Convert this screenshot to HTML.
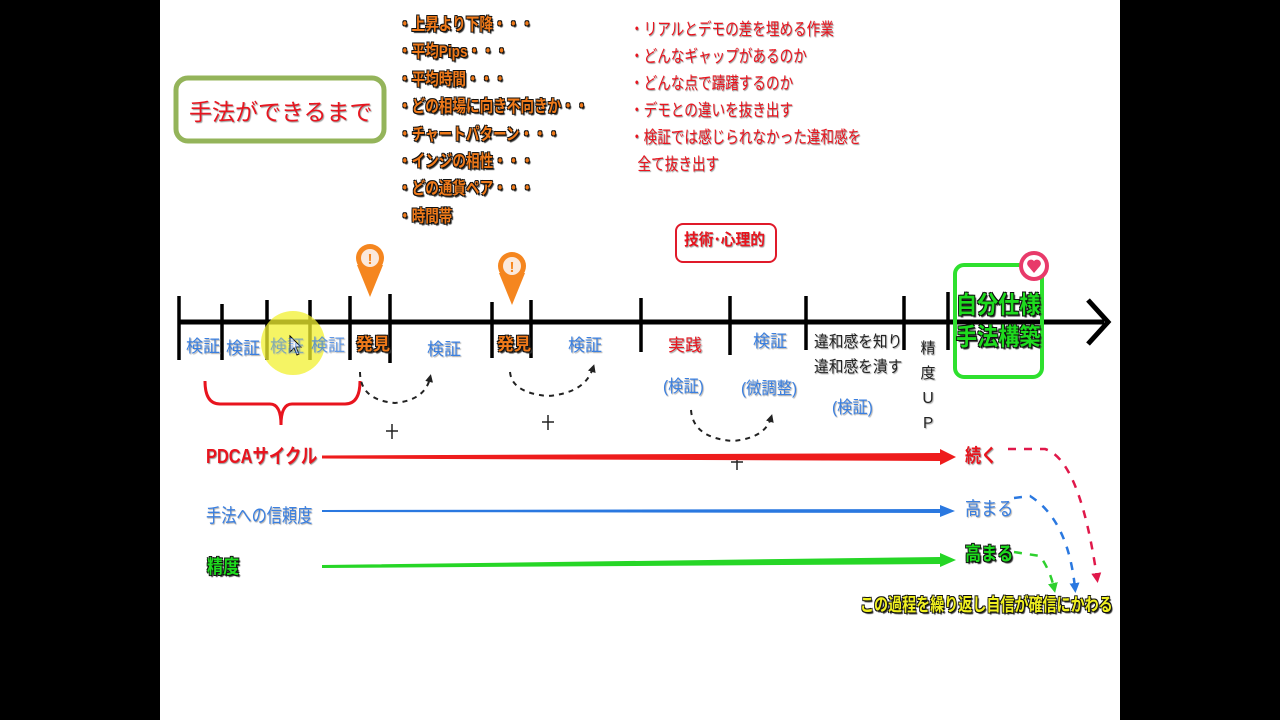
<!DOCTYPE html>
<html><head><meta charset="utf-8"><style>
body{margin:0;width:1280px;height:720px;background:#000;position:relative;overflow:hidden;font-family:"Liberation Sans","Noto Sans CJK JP",sans-serif}
#pg{position:absolute;left:160px;top:0;width:960px;height:720px;background:#fff}
.t{position:absolute;white-space:nowrap;font-weight:bold;line-height:1;transform-origin:0 0}
.or{color:#f07a1a;text-shadow:-1px -1px 0 #111,1px -1px 0 #111,-1px 1px 0 #111,1px 1px 0 #111,2px 2px 1px #333}
.bl{color:#3a7fe0;text-shadow:1px 1px 1px #aaa;font-weight:normal}
.rd{color:#e8141e;text-shadow:1px 1px 1px #999}
.gr{color:#1edc1e;text-shadow:-1px -1px 0 #111,1px -1px 0 #111,-1px 1px 0 #111,1px 1px 0 #111,2px 2px 1px #333}
.bk{color:#222;text-shadow:1px 1px 1px #aaa;font-weight:normal}
svg{position:absolute;left:0;top:0}
</style></head><body>
<div id="pg"></div>
<svg width="1280" height="720">
<defs>
<marker id="ar" markerWidth="4" markerHeight="4" refX="2" refY="2" orient="auto"><path d="M0,0L4,2L0,4z" fill="#222"/></marker>
<marker id="mr" markerWidth="4" markerHeight="4" refX="2" refY="2" orient="auto"><path d="M0,0L4,2L0,4z" fill="#e0184a"/></marker>
<marker id="mb" markerWidth="4" markerHeight="4" refX="2" refY="2" orient="auto"><path d="M0,0L4,2L0,4z" fill="#2a78e0"/></marker>
<marker id="mg" markerWidth="4" markerHeight="4" refX="2" refY="2" orient="auto"><path d="M0,0L4,2L0,4z" fill="#2ed02e"/></marker>
</defs>
<rect x="176" y="78" width="208" height="63" rx="12" fill="#fff" stroke="#94b45a" stroke-width="5"/>
<rect x="676" y="224" width="100" height="38" rx="7" fill="#fff" stroke="#e01a2a" stroke-width="2"/>
<line x1="178" y1="322" x2="1104" y2="322" stroke="#000" stroke-width="5"/>
<polyline points="1088,300 1108,322 1088,344" fill="none" stroke="#000" stroke-width="5"/>
<g stroke="#000" stroke-width="3.5">
<line x1="179" y1="296" x2="179" y2="360"/><line x1="222" y1="304" x2="222" y2="360"/>
<line x1="267" y1="300" x2="267" y2="360"/><line x1="310" y1="300" x2="310" y2="360"/>
<line x1="350" y1="296" x2="350" y2="360"/><line x1="390" y1="294" x2="390" y2="363"/>
<line x1="492" y1="302" x2="492" y2="358"/><line x1="531" y1="300" x2="531" y2="358"/>
<line x1="641" y1="298" x2="641" y2="352"/><line x1="730" y1="296" x2="730" y2="355"/>
<line x1="806" y1="296" x2="806" y2="350"/><line x1="904" y1="296" x2="904" y2="350"/>
<line x1="948" y1="292" x2="948" y2="350"/>
</g>
<g fill="#f5861f"><path d="M357,265 L370,297 L383,265z"/><circle cx="370" cy="258" r="14"/>
<path d="M499,273 L512,305 L525,273z"/><circle cx="512" cy="266" r="14"/></g>
<circle cx="370" cy="258" r="9" fill="#fbe9dc"/><circle cx="512" cy="266" r="9" fill="#fbe9dc"/>
<text x="370" y="264" font-size="15" font-weight="bold" fill="#f5861f" text-anchor="middle" font-family="Liberation Sans">!</text>
<text x="512" y="272" font-size="15" font-weight="bold" fill="#f5861f" text-anchor="middle" font-family="Liberation Sans">!</text>
<rect x="955" y="265" width="87" height="112" rx="9" fill="none" stroke="#2ee02e" stroke-width="4"/>
<circle cx="1034" cy="266" r="13" fill="#fff" stroke="#e83a6a" stroke-width="4"/>
<path d="M1034,273 L1028,266 A3.3,3.3 0 0 1 1034,261 A3.3,3.3 0 0 1 1040,266z" fill="#e83a6a"/>
<circle cx="293" cy="343" r="32" fill="#f2f030" opacity="0.75"/>
<path d="M290,336 L290,352 L294,348 L297,355 L299,354 L296,347 L301,347z" fill="#fff" stroke="#000" stroke-width="1"/>
<path d="M205,381 Q205,404 220,404 L270,404 Q281,404 281,425 Q281,404 292,404 L345,404 Q360,404 360,381" fill="none" stroke="#e8141e" stroke-width="3"/>
<g fill="none" stroke="#222" stroke-width="2" stroke-dasharray="5,5" marker-end="url(#ar)">
<path d="M360,372 Q360,400 395,403 Q425,400 430,378"/>
<path d="M510,372 Q512,393 548,396 Q585,393 593,368"/>
<path d="M691,410 Q693,438 733,441 Q765,438 771,418"/>
</g>
<g stroke="#222" stroke-width="1.5"><line x1="386" y1="431" x2="398" y2="431"/><line x1="392" y1="424" x2="392" y2="439"/>
<line x1="542" y1="422" x2="554" y2="422"/><line x1="548" y1="415" x2="548" y2="430"/>
<line x1="731" y1="462" x2="743" y2="462"/><line x1="737" y1="454" x2="737" y2="470"/></g>
<path d="M322,455.5 L940,453 L940,449 L956,457 L940,465 L940,461 L322,458.5z" fill="#ee1c1c"/>
<path d="M322,510 L940,509 L940,505 L955,511 L940,517 L940,513 L322,512z" fill="#2a78e0"/>
<path d="M322,565 L940,557 L940,553 L956,560 L940,567 L940,564 L322,568z" fill="#26d626"/>
<g fill="none" stroke-width="2.5" stroke-dasharray="8,8">
<path d="M1008,449 L1045,449 Q1080,460 1097,578" stroke="#e0184a" marker-end="url(#mr)"/>
<path d="M1014,498 L1030,496 Q1068,520 1075,588" stroke="#2a78e0" marker-end="url(#mb)"/>
<path d="M1014,552 L1040,556 Q1050,570 1054,588" stroke="#2ed02e" marker-end="url(#mg)"/>
</g>
</svg>
<div class="t rd" style="left:189px;top:101px;font-size:23px;font-weight:normal">手法ができるまで</div>
<div class="t or" style="left:398px;top:11px;font-size:17px;line-height:27.4px;transform:scaleX(.8)">・上昇より下降・・・<br>・平均Pips・・・<br>・平均時間・・・<br>・どの相場に向き不向きか・・<br>・チャートパターン・・・<br>・インジの相性・・・<br>・どの通貨ペア・・・<br>・時間帯</div>
<div class="t rd" style="left:630px;top:16px;font-size:17px;line-height:27px;font-weight:normal;transform:scaleX(.8)">・リアルとデモの差を埋める作業<br>・どんなギャップがあるのか<br>・どんな点で躊躇するのか<br>・デモとの違いを抜き出す<br>・検証では感じられなかった違和感を<br>&nbsp;&nbsp;全て抜き出す</div>
<div class="t rd" style="left:684px;top:233px;font-size:16px;transform:scaleX(.92)">技術･心理的</div>
<div class="t bl" style="left:186px;top:338px;font-size:17px">検証</div>
<div class="t bl" style="left:226px;top:340px;font-size:17px">検証</div>
<div class="t bl" style="left:270px;top:338px;font-size:17px;opacity:.6">検証</div>
<div class="t bl" style="left:311px;top:337px;font-size:17px;opacity:.8">検証</div>
<div class="t or" style="left:356px;top:336px;font-size:17px">発見</div>
<div class="t bl" style="left:427px;top:341px;font-size:17px">検証</div>
<div class="t or" style="left:497px;top:336px;font-size:17px">発見</div>
<div class="t bl" style="left:568px;top:337px;font-size:17px">検証</div>
<div class="t rd" style="left:668px;top:337px;font-size:17px;font-weight:normal">実践</div>
<div class="t bl" style="left:753px;top:333px;font-size:17px">検証</div>
<div class="t bk" style="left:814px;top:330px;font-size:16px;line-height:25px;transform:scaleX(.92)">違和感を知り<br>違和感を潰す</div>
<div class="t bk" style="left:920px;top:336px;font-size:15px;line-height:25px;text-align:center;width:16px;white-space:normal">精度ＵＰ</div>
<div class="t bl" style="left:663px;top:378px;font-size:17px;transform:scaleX(.9)">(検証)</div>
<div class="t bl" style="left:741px;top:380px;font-size:17px;transform:scaleX(.9)">(微調整)</div>
<div class="t bl" style="left:832px;top:399px;font-size:17px;transform:scaleX(.9)">(検証)</div>
<div class="t gr" style="left:956px;top:290px;font-size:24px;line-height:32px;transform:scaleX(.88)">自分仕様<br>手法構築</div>
<div class="t rd" style="left:206px;top:447px;font-size:20px;transform:scaleX(.82)">PDCAサイクル</div>
<div class="t bl" style="left:206px;top:507px;font-size:19px;transform:scaleX(.8)">手法への信頼度</div>
<div class="t gr" style="left:207px;top:558px;font-size:19px;transform:scaleX(.85)">精度</div>
<div class="t rd" style="left:965px;top:447px;font-size:19px;transform:scaleX(.85)">続く</div>
<div class="t bl" style="left:965px;top:500px;font-size:19px;transform:scaleX(.85)">高まる</div>
<div class="t gr" style="left:965px;top:545px;font-size:19px;transform:scaleX(.85)">高まる</div>
<div class="t" style="left:860px;top:596px;font-size:18px;color:#f0f020;transform:scaleX(.78);text-shadow:-1px -1px 0 #111,1px -1px 0 #111,-1px 1px 0 #111,1px 1px 0 #111,2px 2px 1px #333">この過程を繰り返し自信が確信にかわる</div>
</body></html>
